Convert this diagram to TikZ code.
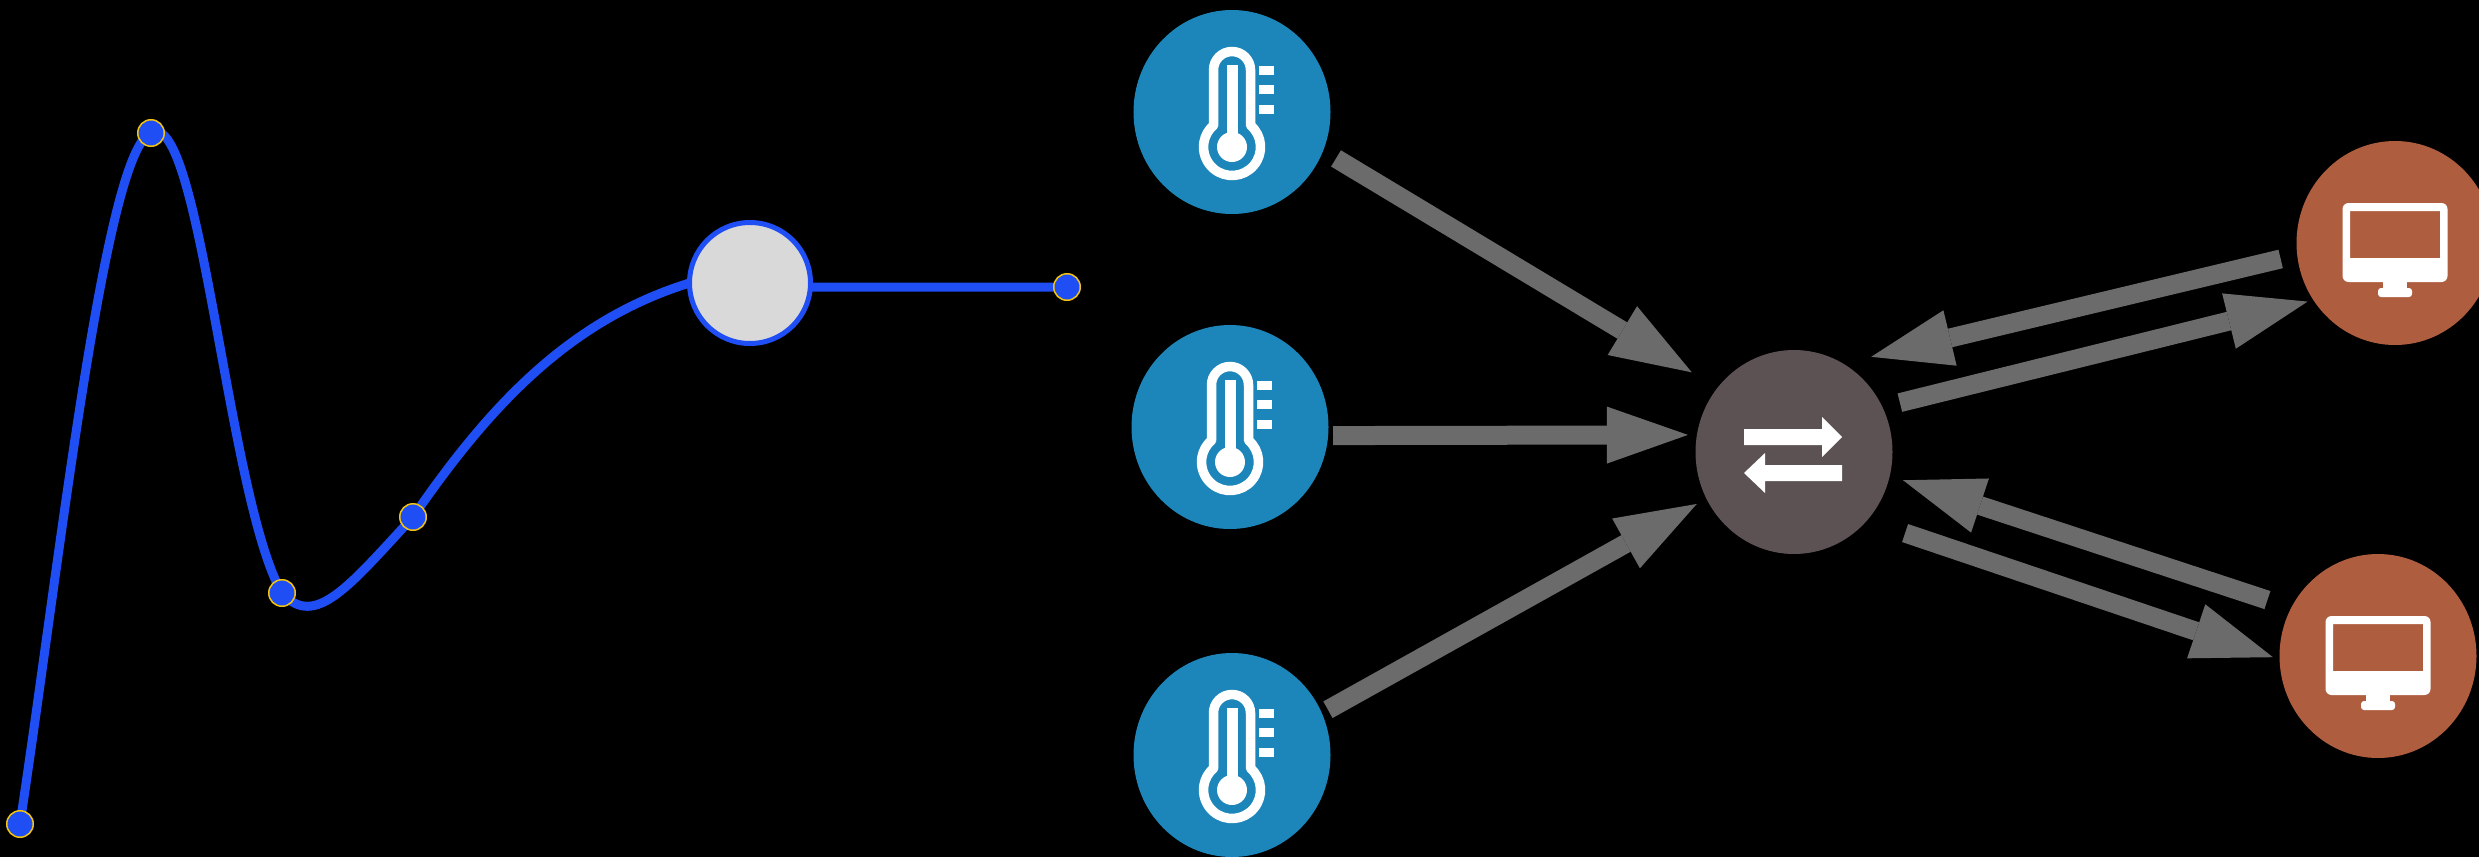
\documentclass[tikz,border=0pt]{standalone}
\usetikzlibrary{arrows.meta,backgrounds,shapes.geometric}

\definecolor{curveblue}{HTML}{1F4EF5}
\definecolor{dotyellow}{HTML}{F2C40F}
\definecolor{sensorblue}{HTML}{1C86BA}
\definecolor{hubgray}{HTML}{5C5254}
\definecolor{monitorred}{HTML}{AF5D3F}
\definecolor{flowgray}{HTML}{6B6B6B}

\tikzset{
	thermo/.pic={
		\begin{scope}[y=1pt]
			\draw[white, line width=9.5pt, line join=round] (-18.5,-13.3) -- (-18.5,42) arc[start angle=180, end angle=0, radius=18.5] -- (18.5,-13.3) arc[start angle=49.6, end angle=-229.6, radius=28.5] -- cycle;
			\fill[white] (-5.5,47) rectangle (5.5,-35);
			\fill[white] (0,-35) circle (15);
			\foreach \ytick in {42,23,3}
				\fill[white] (27,\ytick-4.5) rectangle (42,\ytick+4.5);
		\end{scope}
	},
	monitor/.pic={
		\begin{scope}[y=1pt]
			\fill[white, even odd rule, rounded corners=6pt] (-52.5,40) rectangle (52.5,-39) [sharp corners] (-45,32) rectangle (45,-15);
			\fill[white] (-12,-37) rectangle (12,-47);
			\fill[white, rounded corners=3pt] (-17,-45) rectangle (17,-54);
		\end{scope}
	},
	swaparrows/.pic={
		\begin{scope}[y=1pt]
			\fill[white] (-50,23) -- (28,23) -- (28,35) -- (48,15) -- (28,-5) -- (28,7) -- (-50,7) -- cycle;
			\fill[white] (48,-13) -- (-29,-13) -- (-29,-1) -- (-50,-21) -- (-29,-41) -- (-29,-29) -- (48,-29) -- cycle;
		\end{scope}
	},
}

\begin{document}
\begin{tikzpicture}[
	x=1pt, y=-1pt,
	dot/.style={circle, fill=curveblue, draw=dotyellow, line width=1.5pt, minimum size=26.5pt, inner sep=0pt, outer sep=0pt},
	knob/.style={circle, fill=black!15, draw=curveblue, line width=5pt, minimum size=121pt, inner sep=0pt, outer sep=0pt},
	curve/.style={draw=curveblue, line width=9pt},
	disc/.style={ellipse, minimum width=197pt, minimum height=204pt, inner sep=0pt, outer sep=0pt},
	sensor/.style={disc, fill=sensorblue},
	hubnode/.style={disc, fill=hubgray},
	screen/.style={disc, fill=monitorred},
	flow/.style={-{Triangle[length=81pt, width=57pt, line width=0pt]}, draw=flowgray, fill=flowgray, line width=19pt},
	]
	\useasboundingbox (0,0) rectangle (2479,857);
	
	%-----------------------
	% Curve points
	%-----------------------
	\node[dot] (P1) at (20,824) {};
	\node[dot] (P2) at (151,133) {};
	\node[dot] (P3) at (282,593) {};
	\node[dot] (P4) at (413,517) {};
	\node[knob] (knob) at (750,283) {};
	\node[dot] (P5) at (1067,287) {};
	
	% Curve goes under the points
	\begin{scope}[on background layer]
		\fill[black] (0,0) rectangle (2479,857);
		\draw[curve] (P1.center) .. controls (60,560) and (105,150) .. (P2.center);
		\draw[curve] (P2.center) .. controls (200,105) and (228,500) .. (P3.center);
		\draw[curve] (P3.center) .. controls (315,630) and (350,585) .. (P4.center);
		\draw[curve] (P4.center) .. controls (490,405) and (570,320) .. (knob.west);
		\draw[curve] (knob.-4) -- (P5.center);
	\end{scope}
	
	%-----------------------
	% Sensors, hub, monitors
	%-----------------------
	\node[sensor] (S1) at (1232,112) {};
	\node[sensor] (S2) at (1230,427) {};
	\node[sensor] (S3) at (1232,755) {};
	\node[hubnode] (hub) at (1794,452) {};
	\node[screen] (M1) at (2395,243) {};
	\node[screen] (M2) at (2378,656) {};
	
	\foreach \name in {S1,S2,S3}
		\pic at (\name) {thermo};
	\foreach \name in {M1,M2}
		\pic at (\name) {monitor};
	\pic at (hub) {swaparrows};
	
	%-----------------------
	% Connections
	%-----------------------
	% Sensors -> hub
	\draw[flow, shorten <=15pt, shorten >=30pt] (S1.-23) -- (hub.140);
	\draw[flow, shorten <=5pt, shorten >=9pt] (S2.-5) -- (hub.170);
	\draw[flow, shorten <=7pt, shorten >=11pt] (S3.25) -- (hub.208);
	
	% Hub <-> monitors
	\draw[flow, shorten <=17pt, shorten >=29pt] (M1.187) -- (hub.61);
	\draw[flow, shorten <=18pt, shorten >=6pt] (hub.27) -- (M1.215);
	\draw[flow, shorten <=25pt, shorten >=14pt] (M2.151) -- (hub.-14);
	\draw[flow, shorten <=40pt, shorten >=7pt] (hub.-43) -- (M2.182);
	
\end{tikzpicture}
\end{document}
